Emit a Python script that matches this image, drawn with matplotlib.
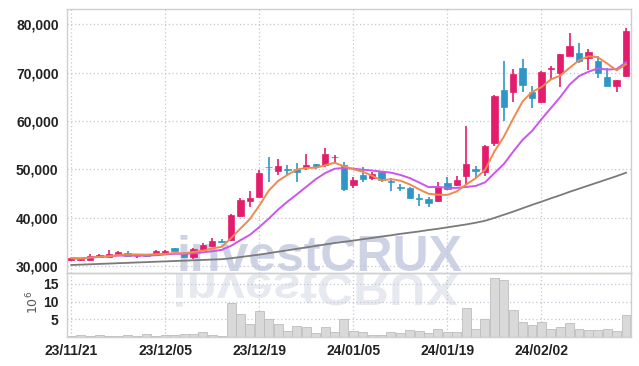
import numpy as np
import pandas as pd
import matplotlib
matplotlib.use("Agg")
import matplotlib.pyplot as plt
from matplotlib.textpath import TextPath
from matplotlib.patches import PathPatch
from matplotlib.font_manager import FontProperties
from matplotlib.transforms import Affine2D

# trading days (KRX holidays removed)
days = pd.bdate_range("2023-11-21", "2024-02-19")
days = days.drop(pd.to_datetime(["2023-12-25", "2023-12-29", "2024-01-01",
                                 "2024-02-09", "2024-02-12"]))
dates = [d.strftime("%y/%m/%d") for d in days]

opens = [31250, 31300, 31300, 31800, 31950, 32450, 32650, 32000, 32150, 32200,
         32650, 33650, 32650, 31800, 33600, 34200, 35100, 35400, 40400, 43500,
         44350, 50500, 49750, 50050, 50000, 50450, 51100, 50900, 52500, 50900,
         46800, 48850, 48300, 49550, 47500, 46250, 46100, 44050, 43800, 43500,
         47150, 46800, 48650, 50050, 49550, 55400, 66450, 66100, 71050, 65950,
         64000, 70800, 69900, 73450, 74050, 73150, 72450, 69150, 67350, 69400]
highs = [31700, 31600, 32500, 32400, 33250, 33100, 33050, 32300, 32400, 33400,
         33300, 33800, 32900, 33800, 34700, 35700, 35500, 40800, 44000, 45500,
         49900, 52500, 52100, 50850, 51300, 53200, 51200, 54400, 53000, 51600,
         48500, 50550, 49500, 49600, 48150, 47000, 46400, 44900, 44300, 47400,
         48350, 48700, 59000, 50600, 55100, 65400, 72400, 70800, 72850, 67300,
         70400, 71300, 73900, 78200, 76250, 74900, 73550, 71000, 68600, 79200]
lows = [31100, 31100, 31200, 31700, 31800, 32300, 32000, 31700, 31900, 32100,
        32500, 33000, 31600, 31500, 33400, 34000, 34700, 35200, 40200, 42300,
        44200, 47300, 48850, 48800, 47300, 49900, 50000, 50550, 51300, 45500,
        46100, 47450, 47900, 47300, 45550, 45600, 43900, 42400, 42300, 43300,
        45700, 46600, 47000, 48150, 48700, 54900, 60000, 64000, 66100, 62650,
        63800, 68700, 67100, 73400, 72100, 70600, 68850, 67300, 65950, 69200]
closes = [31600, 31500, 32100, 32300, 32500, 32900, 32150, 32100, 32050, 33050,
          33150, 33050, 31800, 33500, 34400, 35250, 35000, 40550, 43650, 44100,
          49200, 50400, 50700, 49950, 49550, 50900, 50600, 53200, 52600, 45950,
          47800, 48000, 49050, 47700, 47400, 46150, 44150, 43950, 43100, 46400,
          45950, 47800, 51050, 49600, 54850, 65200, 63000, 69750, 67500, 64700,
          70100, 70950, 73800, 75550, 72450, 74250, 70000, 67350, 68500, 78650]
# 60-day average (needs history before the window)
ma60 = [30200, 30280, 30350, 30430, 30500, 30580, 30650, 30730, 30800, 30880,
        30950, 31030, 31100, 31180, 31250, 31330, 31400, 31600, 31850, 32100,
        32350, 32650, 32950, 33250, 33550, 33850, 34150, 34450, 34750, 35000,
        35250, 35550, 35800, 36100, 36350, 36650, 36900, 37150, 37450, 37700,
        38000, 38300, 38600, 38950, 39350, 39950, 40600, 41250, 41950, 42650,
        43300, 44000, 44650, 45350, 46000, 46650, 47300, 47950, 48600, 49300]
volume = [0.3, 0.6, 0.3, 0.6, 0.4, 0.2, 0.5, 0.3, 0.9, 0.2,
          0.5, 0.5, 0.9, 0.9, 1.3, 0.7, 0.4, 9.5, 6.5, 3.65,
          7.25, 5.0, 3.65, 1.67, 3.0, 2.7, 1.1, 2.7, 1.4, 5.0,
          1.6, 1.3, 0.7, 0.7, 1.3, 1.0, 1.9, 1.6, 1.0, 2.15,
          1.3, 1.3, 8.1, 2.15, 5.0, 16.6, 16.0, 7.5, 4.1, 3.4,
          4.1, 2.15, 2.9, 3.9, 2.15, 1.9, 1.9, 2.15, 1.6, 6.1]

price_ticks = [30000, 40000, 50000, 60000, 70000, 80000]
vol_ticks = [5, 10, 15]

UP = "#e31c6b"
DOWN = "#2f96c6"
GRID = "#c4c6d6"
SPINE = "#cfcfcf"
tick_font = dict(family=["Liberation Sans Narrow", "Liberation Sans", "DejaVu Sans"],
                 weight="bold", size=10)

x = np.arange(len(closes))
o = np.array(opens); c = np.array(closes)
h = np.array(highs); l = np.array(lows)
ma5 = pd.Series(closes).rolling(5, min_periods=1).mean()
ma10 = pd.Series(closes).rolling(10, min_periods=1).mean()

fig = plt.figure(figsize=(6.39, 3.66), dpi=100)
fig.patch.set_facecolor("white")
ax = fig.add_axes([67/639, 1 - 272.5/366, 563.7/639, 263.5/366])
axv = fig.add_axes([67/639, 1 - 337/366, 563.7/639, 64.5/366], sharex=ax)
ax.patch.set_alpha(0)
axv.patch.set_alpha(0)

# watermark (real text) + its mirror image below the baseline
wm_font = ["Liberation Sans", "DejaVu Sans"]
base_y = 366 - 271
fig.text(176/639, base_y/366, "investCRUX", fontsize=36, family=wm_font,
         weight="bold", color="#cdd2e5", ha="left", va="baseline", zorder=-2)
tp = TextPath((0, 0), "investCRUX", size=50, prop=FontProperties(family=wm_font, weight="bold"))
ext = tp.get_extents()
wm_r = PathPatch(tp, transform=Affine2D().scale(1.0, -0.9).translate(176 - ext.x0, base_y - 3),
                 color="#e7e9f1", lw=0, zorder=-2)
fig.patches.append(wm_r)

up = c >= o
cols = np.where(up, UP, DOWN)
ax.vlines(x, l, h, colors=cols, lw=1.2, zorder=3)
body_lo = np.minimum(o, c)
body_h = np.maximum(np.abs(c - o), 120)
ax.bar(x, body_h, bottom=body_lo, width=0.68, color=cols, edgecolor=cols, lw=0.5, zorder=4)

ax.plot(x, ma60, color="#7a7a7a", lw=1.3, zorder=2)
ax.plot(x, ma10, color="#cc55ec", lw=1.4, zorder=5)
ax.plot(x, ma5, color="#ef8a4e", lw=1.4, zorder=5)

ax.set_xlim(-0.45, 59.5)
ax.set_ylim(28650, 83200)
ax.set_yticks(price_ticks)
ax.set_yticklabels([f"{v:,}" for v in price_ticks], **tick_font, color="#222222")
tick_pos = list(range(0, 60, 10))
ax.set_xticks(tick_pos)
ax.tick_params(axis="x", labelbottom=False, length=0)
ax.tick_params(axis="y", length=0, pad=6)
ax.grid(True, color=GRID, ls=(0, (1, 2)), lw=0.9)

axv.bar(x, volume, width=0.95, color="#d9d9d9", edgecolor="#bdbdbd", lw=0.6, zorder=2)
axv.set_ylim(0, 18.2)
axv.set_yticks(vol_ticks)
axv.set_yticklabels([str(v) for v in vol_ticks], **tick_font, color="#222222")
axv.set_xticks(tick_pos)
axv.set_xticklabels([dates[i] for i in tick_pos], **tick_font, color="#222222")
axv.tick_params(length=0, pad=6)
axv.tick_params(axis="x", pad=5)
axv.grid(True, color=GRID, ls=(0, (1, 2)), lw=0.9)
fig.text(33/639, 1 - 302/366, "$10^6$", rotation=90, ha="center", va="center",
         fontsize=9, color="#555555")

for a in (ax, axv):
    for s in a.spines.values():
        s.set_color(SPINE)
        s.set_linewidth(1.0)

fig.savefig("out.png", dpi=100)
